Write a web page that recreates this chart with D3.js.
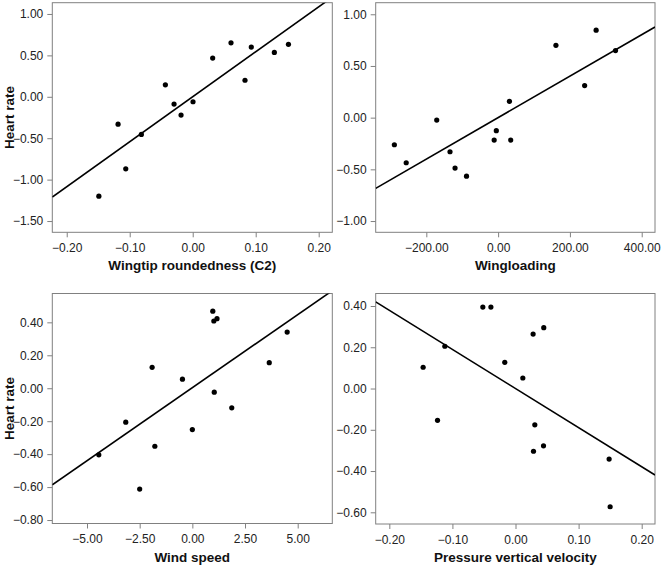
<!DOCTYPE html>
<html>
<head>
<meta charset="utf-8">
<script src="https://cdn.jsdelivr.net/npm/d3@7"></script>
<style>
  html, body { margin: 0; padding: 0; background: #fff; }
  svg { display: block; }
  .tick text { font-family: "Liberation Sans", Arial, sans-serif; font-size: 12px; fill: #222; }
  .title { font-family: "Liberation Sans", Arial, sans-serif; font-size: 13.5px; font-weight: bold; fill: #111; }
</style>
</head>
<body>
<svg id="chart" width="661" height="566"></svg>
<script>
// ---- Data ----
const c2X = [-0.149, -0.1185, -0.1063, -0.0815, -0.0434, -0.0296, -0.0185, 0.0005, 0.0317, 0.0608, 0.083, 0.093, 0.1296, 0.152];
const c2Y = [-1.20, -0.33, -0.87, -0.454, 0.145, -0.088, -0.221, -0.06, 0.467, 0.652, 0.20, 0.60, 0.536, 0.633];

const wlX = [-289, -256, -171, -134, -120, -88, -11, -5, 31.5, 35, 161, 241, 273, 327];
const wlY = [-0.262, -0.436, -0.023, -0.33, -0.488, -0.566, -0.217, -0.126, 0.158, -0.217, 0.70, 0.31, 0.846, 0.649];

const wsX = [-4.44, -3.16, -2.50, -1.91, -1.78, -0.47, 0.0, 0.97, 1.02, 1.17, 1.04, 1.87, 3.65, 4.50];
const wsY = [-0.404, -0.206, -0.612, 0.127, -0.352, 0.055, -0.251, 0.468, 0.408, 0.422, -0.024, -0.119, 0.155, 0.341];

const pvX = [-0.1464, -0.1236, -0.112, -0.0518, -0.039, -0.017, 0.0116, 0.0279, 0.0448, 0.0306, 0.0285, 0.0444, 0.1484, 0.150];
const pvY = [0.103, -0.154, 0.205, 0.395, 0.395, 0.127, 0.051, 0.264, 0.295, -0.176, -0.304, -0.278, -0.342, -0.573];

// fitted regression lines: [slope, intercept]
const fitSlopes = [5.43, 0.002006, 0.0887, -1.895];
const fitIntercepts = [0.0, 0.0, 0.003, 0.0];

const xTitles = ["Wingtip roundedness (C2)", "Wingloading", "Wind speed", "Pressure vertical velocity"];
const yTitles = ["Heart rate", "", "Heart rate", ""];

const xTicks1 = [-0.2, -0.1, 0, 0.1, 0.2];
const yTicks1 = [1, 0.5, 0, -0.5, -1, -1.5];
const xTicks2 = [-200, 0, 200, 400];
const yTicks2 = [1, 0.5, 0, -0.5, -1];
const xTicks3 = [-5, -2.5, 0, 2.5, 5];
const yTicks3 = [0.4, 0.2, 0, -0.2, -0.4, -0.6, -0.8];
const xTicks4 = [-0.2, -0.1, 0, 0.1, 0.2];
const yTicks4 = [0.4, 0.2, 0, -0.2, -0.4, -0.6];

const xDomains = [[-0.2229, 0.2216], [-341, 437], [-6.647, 6.642], [-0.2216, 0.2211]];
const yDomains = [[-1.636, 1.136], [-1.109, 1.112], [-0.821, 0.575], [-0.6567, 0.4606]];

// ---- Layout ----
const boxes = [
  {l: 52.3, r: 332.3, t: 2.7, b: 232.3},
  {l: 375.7, r: 655, t: 2.7, b: 232.3},
  {l: 52.3, r: 332.3, t: 293.5, b: 523.5},
  {l: 375.7, r: 655, t: 293.5, b: 524}
];

const panels = [
  {x: c2X, y: c2Y, xt: xTicks1, yt: yTicks1},
  {x: wlX, y: wlY, xt: xTicks2, yt: yTicks2},
  {x: wsX, y: wsY, xt: xTicks3, yt: yTicks3},
  {x: pvX, y: pvY, xt: xTicks4, yt: yTicks4}
];

const svg = d3.select("#chart");
const fmt = d3.format(".2f");
const gray = "#808080";

panels.forEach((p, i) => {
  const b = boxes[i];
  const x = d3.scaleLinear().domain(xDomains[i]).range([b.l, b.r]);
  const y = d3.scaleLinear().domain(yDomains[i]).range([b.b, b.t]);
  const g = svg.append("g");

  // clip
  const cid = "clip" + i;
  svg.append("clipPath").attr("id", cid)
    .append("rect").attr("x", b.l).attr("y", b.t).attr("width", b.r - b.l).attr("height", b.b - b.t);

  // axes
  const xa = g.append("g").attr("transform", `translate(0,${b.b})`)
    .call(d3.axisBottom(x).tickValues(p.xt).tickFormat(fmt).tickSize(5).tickPadding(6));
  const ya = g.append("g").attr("transform", `translate(${b.l},0)`)
    .call(d3.axisLeft(y).tickValues(p.yt).tickFormat(fmt).tickSize(5).tickPadding(4));
  [xa, ya].forEach(a => {
    a.select(".domain").remove();
    a.selectAll(".tick line").attr("stroke", gray);
    a.attr("font-family", null).attr("font-size", null);
  });

  // box
  g.append("rect").attr("x", b.l).attr("y", b.t).attr("width", b.r - b.l).attr("height", b.b - b.t)
    .attr("fill", "none").attr("stroke", gray).attr("stroke-width", 1);

  // regression line
  const dom = xDomains[i];
  const lineData = dom.map(v => [v, fitSlopes[i] * v + fitIntercepts[i]]);
  g.append("path").attr("clip-path", `url(#${cid})`)
    .attr("d", d3.line().x(d => x(d[0])).y(d => y(d[1]))(lineData))
    .attr("stroke", "#000").attr("stroke-width", 1.6).attr("fill", "none");

  // points
  g.append("g").selectAll("circle").data(p.x.map((v, k) => [v, p.y[k]])).join("circle")
    .attr("cx", d => x(d[0])).attr("cy", d => y(d[1])).attr("r", 2.6).attr("fill", "#000");

  // titles
  g.append("text").attr("class", "title").attr("text-anchor", "middle")
    .attr("x", (b.l + b.r) / 2).attr("y", b.b + 38).text(xTitles[i]);
  if (yTitles[i]) {
    g.append("text").attr("class", "title").attr("text-anchor", "middle")
      .attr("transform", `translate(13.5,${(b.t + b.b) / 2}) rotate(-90)`).text(yTitles[i]);
  }
});
</script>
</body>
</html>
